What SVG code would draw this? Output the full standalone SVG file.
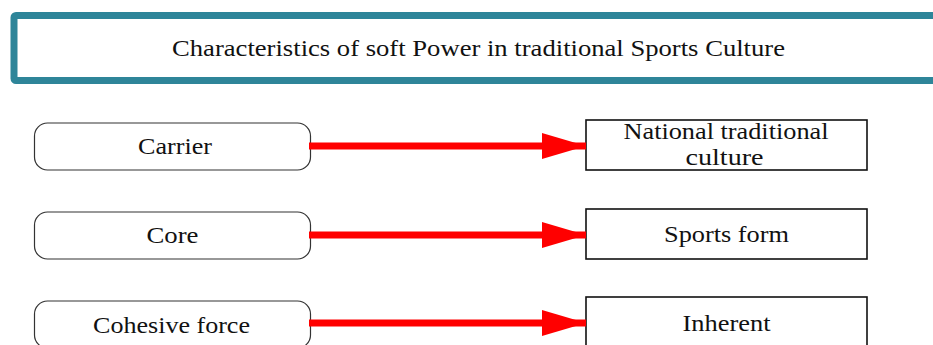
<svg xmlns="http://www.w3.org/2000/svg" width="933" height="345" viewBox="0 0 933 345">
<style>
.t{font-family:"Liberation Serif","Times New Roman",serif;font-size:23px;fill:#111;text-anchor:middle}
.l{fill:#fff;stroke:#333;stroke-width:1.2}
.r{fill:#fff;stroke:#111;stroke-width:1.6}
.c{stroke:#ff0000;stroke-width:7;fill:none}
</style>
<defs>
<marker id="ah" markerUnits="userSpaceOnUse" markerWidth="46" markerHeight="28" refX="44" refY="13" orient="auto">
<path d="M0,0 L44,13 L0,26 Z" fill="#ff0000"/>
</marker>
</defs>
<rect width="933" height="345" fill="#fff"/>
<g id="title">
<rect x="14" y="15.5" width="930" height="65" rx="2" fill="#fff" stroke="#2e8599" stroke-width="7"/>
<text class="t" x="478.5" y="56" textLength="613" lengthAdjust="spacingAndGlyphs">Characteristics of soft Power in traditional Sports Culture</text>
</g>
<g id="carrier">
<rect class="l" x="34.5" y="123" width="276" height="47" rx="13"/>
<text class="t" x="175" y="154" textLength="74" lengthAdjust="spacingAndGlyphs">Carrier</text>
</g>
<g id="core">
<rect class="l" x="34.5" y="212" width="276" height="47" rx="13"/>
<text class="t" x="172.5" y="243" textLength="52" lengthAdjust="spacingAndGlyphs">Core</text>
</g>
<g id="cohesive">
<rect class="l" x="34.5" y="301" width="276" height="47" rx="13"/>
<text class="t" x="171.5" y="333" textLength="157" lengthAdjust="spacingAndGlyphs">Cohesive force</text>
</g>
<g id="national">
<rect class="r" x="586" y="120" width="281" height="50"/>
<text class="t" x="726" y="139" textLength="205" lengthAdjust="spacingAndGlyphs">National traditional</text>
<text class="t" x="724.5" y="165" textLength="78" lengthAdjust="spacingAndGlyphs">culture</text>
</g>
<g id="sports">
<rect class="r" x="586" y="209" width="281" height="50"/>
<text class="t" x="726.5" y="242" textLength="125" lengthAdjust="spacingAndGlyphs">Sports form</text>
</g>
<g id="inherent">
<rect class="r" x="586" y="297" width="281" height="50"/>
<text class="t" x="726.5" y="331" textLength="88" lengthAdjust="spacingAndGlyphs">Inherent</text>
</g>
<g id="connectors">
<line class="c" x1="309" y1="146" x2="586" y2="146" marker-end="url(#ah)"/>
<line class="c" x1="309" y1="235" x2="586" y2="235" marker-end="url(#ah)"/>
<line class="c" x1="309" y1="323" x2="586" y2="323" marker-end="url(#ah)"/>
</g>
</svg>
